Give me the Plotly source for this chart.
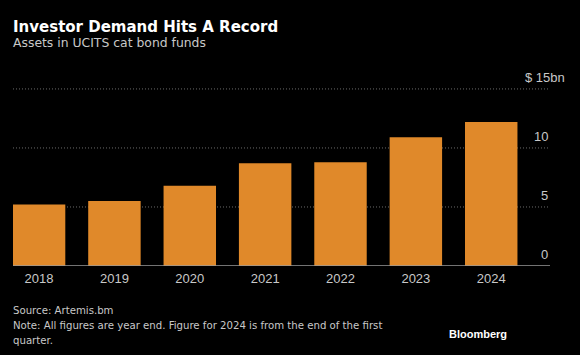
import plotly.graph_objects as go

years = ["2018", "2019", "2020", "2021", "2022", "2023", "2024"]
assets_bn = [5.2, 5.5, 6.8, 8.7, 8.8, 10.9, 12.2]
y_ticks = [0, 5, 10, 15]
y_tick_labels = ["0", "5", "10", "$ 15bn"]

BG = "#000000"
BAR = "#E0892A"
TXT = "#C8C8C8"
NARROW = "Liberation Sans Narrow, DejaVu Sans Condensed, sans-serif"
SANS = "Liberation Sans, Arial, sans-serif"

fig = go.Figure()
fig.add_trace(go.Bar(x=years, y=assets_bn, marker=dict(color=BAR, line=dict(width=0)),
                     width=0.696, hoverinfo="skip"))

fig.update_layout(
    width=580, height=355,
    paper_bgcolor=BG, plot_bgcolor=BG,
    margin=dict(l=13, r=30, t=88, b=89),
    showlegend=False,
    font=dict(family=SANS, color=TXT, size=12),
    xaxis=dict(type="category", range=[-0.346, 6.78], showgrid=False, zeroline=False,
               showline=False, ticks="", ticklabelstandoff=3, tickfont=dict(size=13, color=TXT)),
    yaxis=dict(range=[0, 15.08], tickvals=y_ticks, showticklabels=False, showgrid=False,
               zeroline=False),
)

# gridlines (drawn below bars) and baseline
for v in y_ticks[1:]:
    fig.add_shape(type="line", xref="paper", yref="y", x0=0, x1=1, y0=v, y1=v, layer="below",
                  line=dict(color="#6A6A6A", width=1, dash="1px,2px"))
fig.add_shape(type="line", xref="paper", yref="y", x0=0, x1=1, y0=0, y1=0,
              line=dict(color="#9A9A9A", width=1.5))

for v, lab in zip(y_ticks, y_tick_labels):
    fig.add_annotation(xref="paper", yref="y", x=1, y=v, text=lab, showarrow=False,
                       xanchor="right", yanchor="bottom", yshift=2,
                       xshift=17 if lab.startswith("$") else 0,
                       font=dict(size=13, color=TXT, family=SANS))

fig.add_annotation(xref="paper", yref="paper", x=0, y=1.344, xanchor="left", yanchor="middle",
                   showarrow=False, text="<b>Investor Demand Hits A Record</b>",
                   font=dict(family="DejaVu Sans", size=15, color="#FFFFFF"), xshift=-2)
fig.add_annotation(xref="paper", yref="paper", x=0, y=1.254, xanchor="left", yanchor="middle",
                   showarrow=False, text="Assets in UCITS cat bond funds",
                   font=dict(family="DejaVu Sans", size=12.4, color=TXT), xshift=-2)
fig.add_annotation(xref="paper", yref="paper", x=0, y=-0.251, xanchor="left", yanchor="middle",
                   showarrow=False, text="Source: Artemis.bm",
                   font=dict(family=NARROW, size=11.3, color=TXT), xshift=-2)
fig.add_annotation(xref="paper", yref="paper", x=0, y=-0.331, xanchor="left", yanchor="top",
                   showarrow=False, align="left",
                   text="Note: All figures are year end. Figure for 2024 is from the end of the first<br>quarter.",
                   font=dict(family=NARROW, size=11.3, color=TXT), xshift=-2, yshift=8)
fig.add_annotation(xref="paper", yref="paper", x=0.92, y=-0.381, xanchor="right", yanchor="middle",
                   showarrow=False, text="<b>Bloomberg</b>", xshift=2,
                   font=dict(family=SANS, size=11, color="#FFFFFF"))

fig.write_html("out.html", config={"displayModeBar": False},
               post_script="document.body.style.margin='0';")
